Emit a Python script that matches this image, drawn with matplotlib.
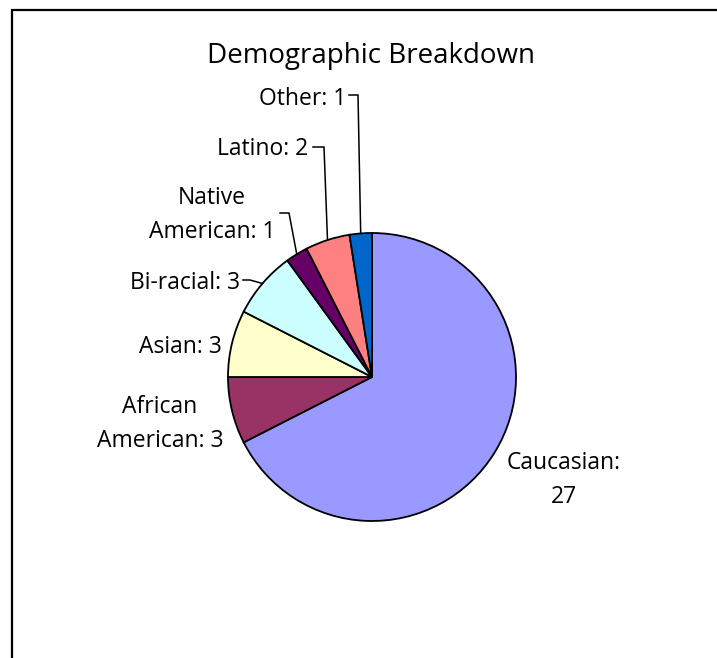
import numpy as np
import matplotlib
matplotlib.use("Agg")
import matplotlib.pyplot as plt
from matplotlib.patches import Rectangle

plt.rcParams['font.family'] = ['Open Sans', 'DejaVu Sans']

# survey counts by group
groups = ["Caucasian", "African American", "Asian", "Bi-racial",
          "Native American", "Latino", "Other"]
counts = [27, 3, 3, 3, 1, 2, 1]
colors = ["#9999FF", "#993366", "#FFFFCC", "#CCFFFF",
          "#660066", "#FF8080", "#0066CC"]

W, H = 717, 658
fig = plt.figure(figsize=(W / 100, H / 100), dpi=100)
ax = fig.add_axes([0, 0, 1, 1])

# work in pixel units, y measured from the top
def py(y):
    return H - y

cx, cy, r = 372, py(377), 144
wedges, _ = ax.pie(counts, colors=colors, startangle=90, counterclock=False,
                   center=(cx, cy), radius=r, frame=True,
                   wedgeprops=dict(edgecolor='black', linewidth=1.3))
ax.set_xlim(0, W)
ax.set_ylim(0, H)
ax.set_aspect('equal')
ax.axis('off')

ax.text(371, py(63), "Demographic Breakdown", ha='center', va='baseline',
        fontsize=20)

# label text, anchor (x, last baseline from top), alignment, leader elbow
label_text = [
    "Caucasian:\n{}", "African\nAmerican: {}", "Asian: {}", "Bi-racial: {}",
    "Native\nAmerican: {}", "Latino: {}", "Other: {}",
]
label_pos = [(564, 503), (160, 447), (180, 353), (240, 289),
             (212, 238), (308, 155), (346, 105)]
label_ha = ['center', 'center', 'center', 'right', 'center', 'right', 'right']
leaders = [None, None, None, ((243, 280), (250, 280)),
           ((280, 213), (289, 213)), ((313, 147), (324, 147)),
           ((349, 95), (358, 95))]

for w, txt, (lx, ly), ha, lead, n in zip(wedges, label_text, label_pos,
                                         label_ha, leaders, counts):
    ax.text(lx, py(ly), txt.format(n), ha=ha, va='baseline', fontsize=16.5,
            multialignment='center', linespacing=1.57)
    if lead is not None:
        ang = np.deg2rad((w.theta1 + w.theta2) / 2)
        ex, ey = cx + r * np.cos(ang), cy + r * np.sin(ang)
        (x0, y0), (x1, y1) = lead
        ax.plot([x0, x1, ex], [py(y0), py(y1), ey], color='black', lw=1.1,
                solid_joinstyle='miter')

# chart area border (runs past the right and bottom edges)
fig.patches.append(Rectangle((12 / W, -0.05), 1.1, 1 - 10 / H + 0.05,
                             transform=fig.transFigure, fill=False,
                             edgecolor='black', linewidth=1.6))

fig.savefig('out.png', dpi=100)
